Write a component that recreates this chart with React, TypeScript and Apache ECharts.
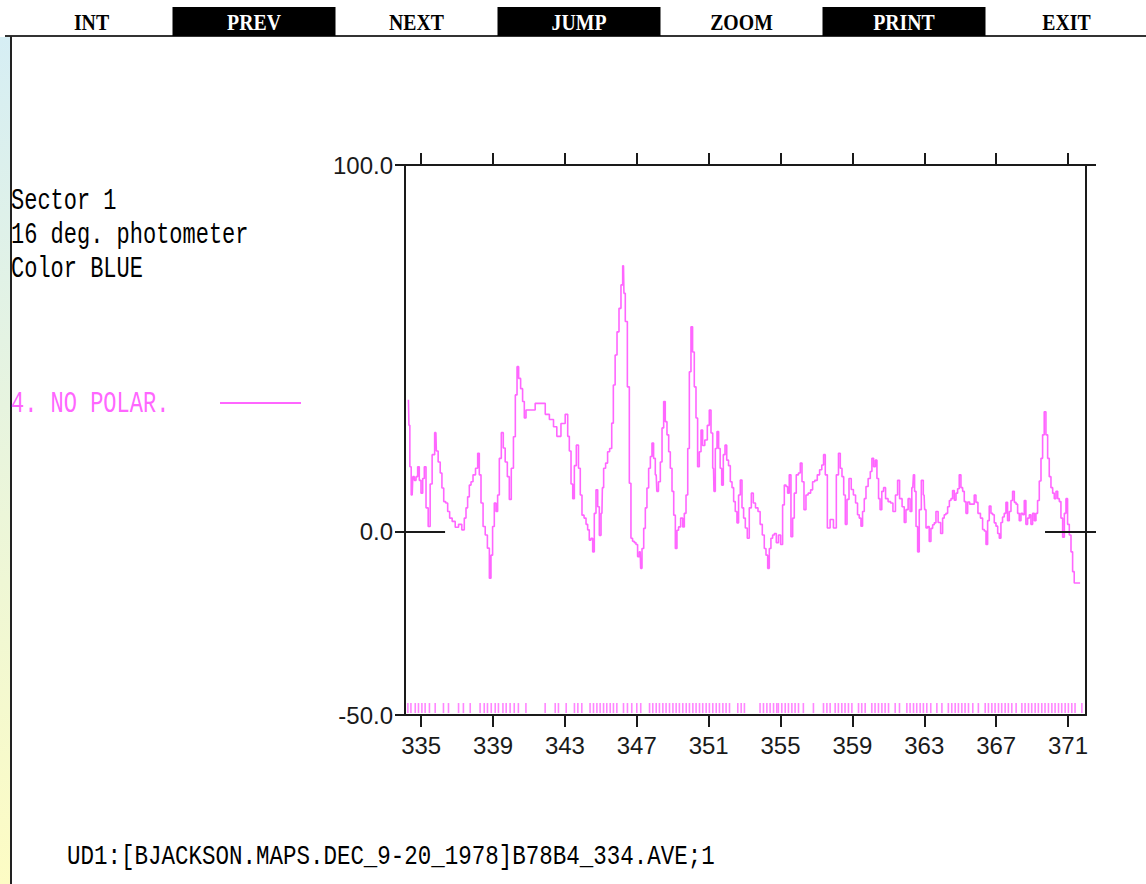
import React, { useEffect, useRef } from "react";
import * as echarts from "echarts";

// ---------- texts ----------
const menuItems = ["INT", "PREV", "NEXT", "JUMP", "ZOOM", "PRINT", "EXIT"];
const menuInverted = [false, true, false, true, false, true, false];
const infoLines = ["Sector 1", "16 deg. photometer", "Color BLUE"];
const seriesName = "4. NO POLAR.";
const filePath = "UD1:[BJACKSON.MAPS.DEC_9-20_1978]B78B4_334.AVE;1";

// ---------- axes ----------
const xTicks = [335, 339, 343, 347, 351, 355, 359, 363, 367, 371];
const yTicks = [-50, 0, 100];
const xMin = 334.1;
const xMax = 372.0;
const yMin = -50;
const yMax = 100;

// ---------- data (angle, brightness) ----------
const samplesA: [number, number][] = [
  [334.29, 36], [334.35, 29], [334.39, 17.7], [334.5, 10], [334.57, 15], [334.67, 14],
  [334.76, 15], [334.85, 17.7], [334.94, 14], [335.04, 10.5], [335.13, 14.5], [335.22, 17.7],
  [335.32, 6.5], [335.46, 1.4], [335.54, 13], [335.68, 21], [335.82, 27], [335.87, 22],
  [336.02, 19], [336.1, 16], [336.21, 11.9], [336.3, 8.2], [336.43, 7.8], [336.52, 5.5],
  [336.65, 3.7], [336.8, 2.8], [336.99, 1.2], [337.17, 2], [337.35, 0.5], [337.45, 3.7],
  [337.54, 6.5], [337.63, 9.5], [337.73, 12.7], [337.82, 13.6], [337.95, 15.5], [338.1, 17.3],
  [338.19, 21.4], [338.28, 15.5], [338.38, 7.8], [338.51, 1.4], [338.62, -0.9], [338.75, -4.5],
  [338.84, -12.7], [338.93, -6.4], [339.02, 1.4], [339.12, 7.8], [339.21, 5.5], [339.3, 10],
  [339.4, 20], [339.52, 27], [339.62, 22.8], [339.73, 19], [339.86, 15], [339.95, 8.8],
  [340.08, 17.3], [340.19, 25.9], [340.29, 37.3], [340.38, 45], [340.47, 41.8], [340.6, 39],
  [340.69, 35.5], [340.79, 31], [340.88, 33.2], [341.81, 35], [342.0, 32], [342.27, 30.6],
  [342.46, 28.6], [342.64, 26], [342.92, 29.5], [343.11, 32], [343.2, 26], [343.29, 22],
];
const samplesB: [number, number][] = [
  [343.39, 13], [343.48, 9], [343.57, 18], [343.7, 23.6], [343.81, 17.3], [343.9, 10],
  [344.0, 4.5], [344.13, 3.7], [344.22, 2], [344.31, 0.5], [344.4, -2.3], [344.5, -1.8],
  [344.59, -5.5], [344.68, 5], [344.78, 11.4], [344.87, 6.8], [344.96, -1], [345.06, 5],
  [345.11, 12], [345.2, 17.3], [345.33, 18.7], [345.42, 21.8], [345.56, 22.7], [345.65, 29.6],
  [345.74, 40], [345.85, 48.2], [345.95, 54.5], [346.07, 60.9], [346.17, 67.3], [346.26, 72.5],
  [346.31, 65], [346.41, 57.3], [346.54, 39.5], [346.63, 13.2], [346.72, -1.8], [346.81, -2.6],
  [346.91, -3], [347.0, -3.5], [347.09, -6.8], [347.19, -5.5], [347.24, -10], [347.34, -4.6],
  [347.43, 0.9], [347.52, 6.5], [347.61, 11.9], [347.71, 17.3], [347.8, 20.5], [347.89, 24.2],
  [347.98, 20], [348.08, 15.5], [348.15, 11], [348.26, 13.6], [348.36, 19], [348.45, 28.3],
  [348.54, 35.5], [348.63, 30], [348.73, 26.4], [348.82, 21.8], [348.91, 17.3], [349.01, 11],
  [349.1, 4.5], [349.19, -4.6], [349.28, 0.4], [349.37, 1.3], [349.51, 3.7], [349.6, 1.3],
  [349.69, 5], [349.79, 10], [349.88, 22.7], [349.97, 43.6], [350.06, 55.9], [350.15, 49],
  [350.25, 39.5], [350.34, 31], [350.43, 17.7], [350.53, 21.8], [350.62, 27.7], [350.71, 23.5],
  [350.86, 25], [350.99, 29], [351.08, 33.2], [351.18, 26.9], [351.27, 17.3], [351.32, 11],
  [351.42, 22.7], [351.51, 27.3], [351.6, 22.7], [351.68, 17.3], [351.77, 12.7], [351.86, 21],
  [351.96, 23.6], [352.05, 19.5], [352.16, 18], [352.25, 13.6], [352.35, 12], [352.43, 8.2],
  [352.53, 5.5], [352.62, 2.4], [352.71, 10], [352.81, 14.1], [352.9, 6.5],
];
const samplesC: [number, number][] = [
  [352.99, 3.7], [353.09, 1], [353.21, -1.8], [353.31, 6.5], [353.44, 10.5], [353.53, 7.8],
  [353.68, 6.5], [353.81, 5.5], [353.92, 2], [354.05, -0.9], [354.14, -4.6], [354.24, -6.4],
  [354.33, -10], [354.42, -4.6], [354.51, -1.8], [354.61, -0.9], [354.7, -0.5], [354.83, -3],
  [354.94, -0.9], [355.07, -3.5], [355.16, 7.3], [355.26, 12.7], [355.35, 12.3], [355.44, 10.5],
  [355.53, 15.5], [355.63, -1.4], [355.72, 3.7], [355.81, 10.5], [355.94, 15.5], [356.05, 16],
  [356.15, 18.7], [356.24, 13.6], [356.37, 6], [356.46, 10], [356.61, 10.5], [356.74, 11.4],
  [356.83, 13.6], [356.98, 14], [357.11, 15.5], [357.24, 16.9], [357.35, 18.2], [357.44, 21],
  [357.54, 15.5], [357.67, 1], [357.85, 3.3], [358.04, 1], [358.17, 15.5], [358.28, 21.4],
  [358.37, 17.3], [358.47, 15], [358.56, 10], [358.65, 2], [358.75, 8.8], [358.87, 14.5],
  [359.0, 11.5], [359.11, 10], [359.24, 7.8], [359.33, 4.6], [359.43, 3.7], [359.52, 1.5],
  [359.61, 5.5], [359.71, 9], [359.8, 12.3], [359.95, 14.5], [360.04, 16.4], [360.13, 20],
  [360.23, 17.7], [360.32, 19.5], [360.41, 14.5], [360.5, 9], [360.58, 6], [360.69, 11],
  [360.78, 12], [360.91, 9], [361.06, 8.2], [361.19, 7.8], [361.32, 5.5], [361.47, 10],
  [361.56, 14], [361.69, 9], [361.84, 6.8], [361.93, 2.5], [362.03, 6], [362.17, 9],
  [362.25, 5.5], [362.36, 12], [362.43, 15.5],
];
const samplesD: [number, number][] = [
  [362.49, 11], [362.59, 1.4], [362.67, -5.5], [362.77, 6], [362.9, 14], [362.99, 10],
  [363.05, 6], [363.14, 1], [363.23, 1.4], [363.32, -2.7], [363.42, 0.9], [363.51, 1.9],
  [363.6, 2.4], [363.7, 5.5], [363.84, 2.5], [363.98, -0.5], [364.06, 3.7], [364.16, 4.6],
  [364.25, 5], [364.35, 6.8], [364.44, 8.5], [364.53, 9], [364.62, 11.2], [364.72, 8.6],
  [364.81, 10.5], [364.9, 11.7], [364.99, 15.5], [365.09, 12], [365.18, 11], [365.27, 8.2],
  [365.37, 5], [365.46, 8.1], [365.59, 7.5], [365.73, 7.5], [365.83, 10], [365.92, 8],
  [366.05, 5], [366.2, 3.7], [366.29, 0.6], [366.39, 0.2], [366.48, -3.5], [366.57, 3],
  [366.66, 7], [366.76, 5], [366.85, 4.6], [366.94, 2.4], [367.04, 1.5], [367.13, -0.5],
  [367.22, -1.8], [367.31, 2.5], [367.4, 4], [367.5, 5], [367.59, 8], [367.68, 3],
  [367.78, 5.5], [367.87, 8.5], [367.96, 11], [368.06, 8], [368.15, 7.5], [368.24, 5],
  [368.33, 3], [368.43, 5], [368.52, 4.6], [368.61, 8.5], [368.7, 2], [368.8, 3.7],
  [368.89, 4.6], [368.98, 2], [369.08, 5], [369.17, 3], [369.26, 5], [369.35, 8.5],
  [369.45, 13.8], [369.54, 20], [369.63, 26.4], [369.72, 32.7], [369.82, 26.4], [369.91, 20],
  [370.0, 15], [370.1, 12], [370.19, 10.5], [370.28, 9], [370.38, 11], [370.47, 9],
  [370.56, 8.2], [370.65, 3.7], [370.75, -1.5], [370.84, 5], [370.93, 9], [371.02, 2],
  [371.12, -0.9], [371.21, -5.5], [371.3, -10.9], [371.39, -14], [371.67, -14],
];

// positions of the sample markers drawn along the bottom of the plot
const rugPositions = [
  334.26, 334.43, 334.67, 334.85, 335.04, 335.22, 335.46, 335.78, 336.24, 336.52, 337.08, 337.35,
  337.73, 338.28, 338.51, 338.69, 338.9, 339.12, 339.3, 339.55, 339.73, 339.95, 340.18, 340.41,
  340.83, 341.9, 342.46, 342.64, 343.07, 343.53, 343.72, 343.94, 344.4, 344.59, 344.78, 344.96,
  345.15, 345.33, 345.52, 345.7, 345.89, 346.26, 346.48, 346.72, 347.0, 347.22, 347.71, 347.89,
  348.08, 348.26, 348.45, 348.63, 348.82, 349.01, 349.19, 349.37, 349.56, 349.75, 349.93, 350.12,
  350.3, 350.49, 350.67, 350.86, 351.04, 351.23, 351.42, 351.6, 351.79, 351.97, 352.16, 352.62,
  352.81, 352.99, 353.86, 354.05, 354.24, 354.42, 354.61, 354.79, 354.88, 355.07, 355.26, 355.44,
  355.63, 355.81, 356.0, 356.27, 356.83, 357.39, 357.58, 357.76, 358.04, 358.22, 358.41, 358.59,
  358.78, 358.97, 359.34, 359.52, 359.71, 360.08, 360.26, 360.45, 360.64, 360.82, 361.01, 361.38,
  361.62, 362.03, 362.21, 362.4, 362.58, 362.77, 362.95, 363.14, 363.36, 363.7, 363.98, 364.34,
  364.53, 364.72, 364.9, 365.09, 365.27, 365.46, 365.7, 366.01, 366.39, 366.57, 366.76, 366.94,
  367.13, 367.31, 367.5, 367.68, 367.87, 368.11, 368.43, 368.61, 368.8, 368.98, 369.17, 369.35,
  369.54, 369.72, 369.91, 370.1, 370.28, 370.47, 370.65, 370.84, 371.02, 371.21, 371.39, 371.77,
];
const rugLevel = -48.1;

const MAGENTA = "#ff66ff";
const INK = "#1a1a1a";
const MONO = "'Liberation Mono', 'Courier New', monospace";
const SERIF = "'Liberation Serif', 'Times New Roman', serif";
const SANS = "'Liberation Sans', Arial, sans-serif";

export default function App() {
  const ref = useRef<HTMLDivElement>(null);

  useEffect(() => {
    if (!ref.current) return;
    const chart = echarts.init(ref.current, null, { renderer: "svg" });
    const samples = [...samplesA, ...samplesB, ...samplesC, ...samplesD];

    const graphics: any[] = [];
    // left colored strip
    graphics.push({
      type: "rect",
      shape: { x: 0, y: 37, width: 10, height: 847 },
      style: {
        fill: new echarts.graphic.LinearGradient(0, 0, 0, 1, [
          { offset: 0, color: "#d6eef4" },
          { offset: 1, color: "#fdfcc4" },
        ]),
      },
      silent: true,
    });
    graphics.push({
      type: "line",
      shape: { x1: 5, y1: 36, x2: 1146, y2: 36 },
      style: { stroke: "#333", lineWidth: 2 },
    });
    graphics.push({
      type: "line",
      shape: { x1: 11, y1: 36, x2: 11, y2: 884 },
      style: { stroke: "#222", lineWidth: 2 },
    });
    // menu bar
    menuItems.forEach((label, i) => {
      const bx = 10 + 162.5 * i;
      if (menuInverted[i]) {
        graphics.push({
          type: "rect",
          shape: { x: bx, y: 7, width: 163, height: 29 },
          style: { fill: "#000" },
        });
      }
      graphics.push({
        type: "text",
        x: bx + 81.5,
        y: 22,
        scaleX: 0.9,
        scaleY: 1.05,
        style: {
          text: label,
          fill: menuInverted[i] ? "#fff" : "#000",
          font: `bold 22px ${SERIF}`,
          textAlign: "center",
          textVerticalAlign: "middle",
        },
      });
    });
    // info lines
    const infoY = [202, 236, 270];
    infoLines.forEach((t, i) => {
      graphics.push({
        type: "text",
        x: 11,
        y: infoY[i],
        scaleY: 1.3,
        style: {
          text: t,
          fill: "#000",
          font: `22px ${MONO}`,
          textAlign: "left",
          textVerticalAlign: "middle",
        },
      });
    });
    // series key
    graphics.push({
      type: "text",
      x: 11,
      y: 405,
      scaleY: 1.3,
      style: {
        text: seriesName,
        fill: MAGENTA,
        font: `22px ${MONO}`,
        textAlign: "left",
        textVerticalAlign: "middle",
      },
    });
    graphics.push({
      type: "line",
      shape: { x1: 220, y1: 403, x2: 301, y2: 403 },
      style: { stroke: MAGENTA, lineWidth: 2 },
    });
    // file path
    graphics.push({
      type: "text",
      x: 67,
      y: 857,
      scaleY: 1.25,
      style: {
        text: filePath,
        fill: "#000",
        font: `22.5px ${MONO}`,
        textAlign: "left",
        textVerticalAlign: "middle",
      },
    });

    const axisLine = { show: true, onZero: false, lineStyle: { color: INK, width: 2 } };
    const tickStyle = { color: INK, width: 2 };

    chart.setOption({
      animation: false,
      backgroundColor: "#fff",
      grid: { left: 405, right: 60, top: 165, bottom: 169, containLabel: false },
      xAxis: [
        {
          type: "value",
          position: "bottom",
          min: xMin,
          max: xMax,
          axisLine,
          axisTick: { show: true, customValues: xTicks, length: 12, lineStyle: tickStyle },
          axisLabel: {
            show: true,
            customValues: xTicks,
            margin: 18,
            color: INK,
            fontFamily: SANS,
            fontSize: 24,
            formatter: (v: number) => String(v),
          },
          splitLine: { show: false },
        },
        {
          type: "value",
          position: "top",
          min: xMin,
          max: xMax,
          axisLine,
          axisTick: { show: true, customValues: xTicks, length: 12, lineStyle: tickStyle },
          axisLabel: { show: false },
          splitLine: { show: false },
        },
      ],
      yAxis: [
        {
          type: "value",
          position: "left",
          min: yMin,
          max: yMax,
          axisLine,
          axisTick: { show: true, customValues: yTicks, length: 10, lineStyle: tickStyle },
          axisLabel: {
            show: true,
            customValues: yTicks,
            margin: 12,
            color: INK,
            fontFamily: SANS,
            fontSize: 24,
            formatter: (v: number) => v.toFixed(1),
          },
          splitLine: { show: false },
        },
        {
          type: "value",
          position: "right",
          min: yMin,
          max: yMax,
          axisLine,
          axisTick: { show: true, customValues: [0, 100], length: 10, lineStyle: tickStyle },
          axisLabel: { show: false },
          splitLine: { show: false },
        },
      ],
      graphic: graphics,
      series: [
        {
          name: seriesName,
          type: "line",
          xAxisIndex: 0,
          yAxisIndex: 0,
          data: samples,
          step: "middle",
          symbol: "none",
          lineStyle: { color: MAGENTA, width: 1.6 },
          itemStyle: { color: MAGENTA },
          markLine: {
            silent: true,
            symbol: "none",
            label: { show: false },
            lineStyle: { color: INK, width: 2, type: "solid" },
            data: [
              [{ coord: [xMin, 0] }, { coord: [xMin + 2.23, 0] }],
              [{ coord: [xMax - 2.28, 0] }, { coord: [xMax, 0] }],
            ],
          },
        },
        {
          name: "samples",
          type: "scatter",
          xAxisIndex: 0,
          yAxisIndex: 0,
          data: rugPositions.map((x) => [x, rugLevel]),
          symbol: "rect",
          symbolSize: [1.6, 10],
          itemStyle: { color: MAGENTA },
        },
      ],
    });

    return () => chart.dispose();
  }, []);

  return (
    <div
      ref={ref}
      style={{ position: "fixed", left: 0, top: 0, width: 1146, height: 884, background: "#fff" }}
    />
  );
}
